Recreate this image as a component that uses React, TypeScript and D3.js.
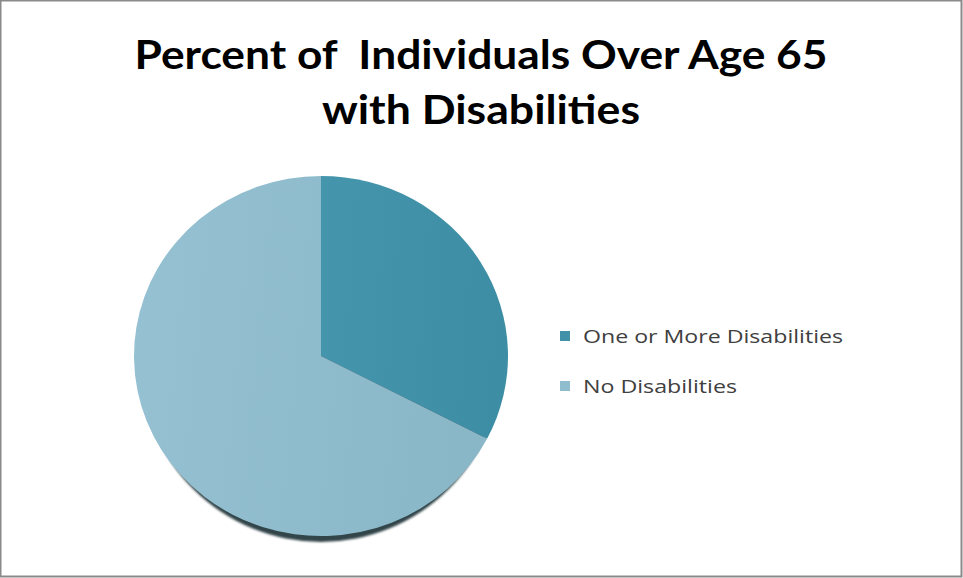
import React from "react";
import * as d3 from "d3";

const categories = ["One or More Disabilities", "No Disabilities"];
const values = [32.6, 67.4];
const colors = ["#4192a8", "#90bdce"];
const titleLines = ["Percent of  Individuals Over Age 65", "with Disabilities"];

const W = 963;
const H = 578;

export default function App() {
  const cx = 321;
  const cy = 356;
  const rx = 187;
  const ry = 180;
  const pie = d3.pie<number>().sort(null).startAngle(0).endAngle(2 * Math.PI);
  const arcs = pie(values);
  const arc = d3.arc<d3.PieArcDatum<number>>().innerRadius(0).outerRadius(rx);
  const legendY = d3.scalePoint<string>().domain(categories).range([343, 393]);

  return (
    <svg width={W} height={H} style={{ position: "absolute", left: 0, top: 0, background: "#fff" }}>
      <defs>
        <linearGradient id="g0" x1="0" y1="0" x2="1" y2="0.1">
          <stop offset="0" stopColor="#4596ac" />
          <stop offset="1" stopColor="#3d8ea4" />
        </linearGradient>
        <linearGradient id="g1" x1="0" y1="0" x2="1" y2="0.1">
          <stop offset="0" stopColor="#95c1d2" />
          <stop offset="1" stopColor="#8ab7c7" />
        </linearGradient>
        <filter id="blur" x="-10%" y="-10%" width="120%" height="120%">
          <feGaussianBlur stdDeviation="1.3" />
        </filter>
      </defs>
      <rect x={0.5} y={0.5} width={W - 2} height={H - 2} fill="#fff" stroke="#8a8a8a" strokeWidth={2} />
      {titleLines.map((t, i) => (
        <text
          key={i}
          x={481}
          y={69 + i * 55}
          textAnchor="middle"
          fontFamily="Lato, 'Open Sans', sans-serif"
          fontWeight="bold"
          fontSize={40}
          fill="#000"
          style={{ whiteSpace: "pre" }}
          textLength={i === 0 ? 693 : 318}
          lengthAdjust="spacingAndGlyphs"
        >
          {t}
        </text>
      ))}
      <ellipse cx={cx} cy={cy + 7} rx={rx - 7} ry={ry - 1} fill="#33444a" filter="url(#blur)" />
      <g transform={`translate(${cx},${cy}) scale(1,${ry / rx})`}>
        {arcs.map((a, i) => (
          <path key={i} d={arc(a) || ""} fill={`url(#g${i})`} />
        ))}
      </g>
      {categories.map((c, i) => (
        <g key={c}>
          <rect x={560} y={(legendY(c) as number) - 12} width={10} height={10} fill={colors[i]} />
          <text
            x={583}
            y={legendY(c) as number}
            fontFamily="'Open Sans', 'DejaVu Sans', sans-serif"
            fontSize={19}
            fill="#404040"
            textLength={i === 0 ? 260 : 154}
            lengthAdjust="spacingAndGlyphs"
          >
            {c}
          </text>
        </g>
      ))}
    </svg>
  );
}
